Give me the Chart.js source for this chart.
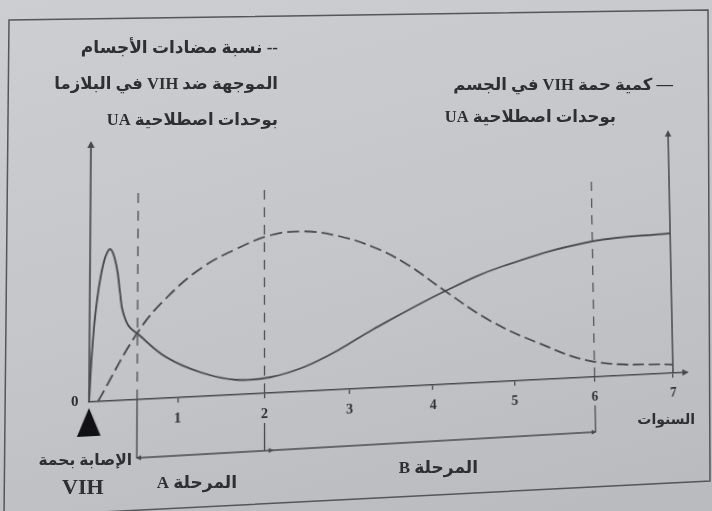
<!DOCTYPE html>
<html lang="ar">
<head>
<meta charset="UTF-8">
<title>VIH</title>
<script src="https://cdn.jsdelivr.net/npm/chart.js@4"></script>
<style>
html, body { margin: 0; padding: 0; }
body { width: 712px; height: 511px; overflow: hidden; position: relative; background: linear-gradient(165deg, #cdced2 0%, #c4c5c9 55%, #b9babe 100%); font-family: "Liberation Serif", "DejaVu Sans", serif; color: #2f2f33; }
#frame { position: absolute; left: 0; top: 0; }
#chart { position: absolute; left: 0; top: 0; transform-origin: 0 0; filter: blur(0.4px); }
.t { position: absolute; white-space: nowrap; font-weight: bold; line-height: 1; filter: blur(0.3px); }
.rtl { direction: rtl; }
</style>
</head>
<body>
<svg id="frame" width="712" height="511"><polygon points="9,20 708,10 710,481 4,517" fill="none" stroke="#55565a" stroke-width="1.5"/></svg>
<canvas id="chart" width="712" height="511"></canvas>

<div class="t rtl" style="right:434px; top:39px; font-size:17px">-- نسبة مضادات الأجسام</div>
<div class="t rtl" style="right:434px; top:76px; font-size:16.5px">الموجهة ضد VIH في البلازما</div>
<div class="t rtl" style="right:434px; top:112px; font-size:16.5px">بوحدات اصطلاحية UA</div>
<div class="t rtl" style="right:39px; top:77px; font-size:16.5px">— كمية حمة VIH في الجسم</div>
<div class="t rtl" style="right:96px; top:109px; font-size:16.5px">بوحدات اصطلاحية UA</div>
<div class="t" style="left:71px; top:394px; font-size:15px">0</div>
<div class="t rtl" style="right:17px; top:413px; font-size:14px">السنوات</div>
<div class="t rtl" style="right:580px; top:452px; font-size:15.5px">الإصابة بحمة</div>
<div class="t" style="left:62px; top:476px; font-size:22px">VIH</div>
<div class="t rtl" style="right:475px; top:474px; font-size:17px">المرحلة A</div>
<div class="t rtl" style="right:234px; top:459px; font-size:17px">المرحلة B</div>

<script>
// values (years / conventional units UA)
const virusYears    = [0, 0.03, 0.08, 0.16, 0.23, 0.30, 0.34, 0.37, 0.44, 0.54, 0.87, 1.27, 1.67, 2.07, 2.47, 2.88, 3.28, 4.16, 4.88, 6.0, 7.0];
const virusLoad     = [0, 50, 100, 141, 152, 134, 108, 90, 74, 66, 41, 24, 15, 16, 25, 41, 60, 97, 121, 144, 150];
const antibodyYears = [0.1, 0.54, 0.87, 1.27, 1.67, 2.07, 2.47, 2.88, 3.28, 3.67, 4.16, 4.69, 5.29, 6.0, 7.0];
const antibodyLevel = [0, 67, 101, 130, 148, 161, 164, 158, 146, 128, 97, 65, 39, 16, 9];
const yearTicks     = [1, 2, 3, 4, 5, 6, 7];
const guideYears    = [0.54, 2, 6];
const guideTop      = 210;
const phaseBounds   = [0.54, 2, 6];
const phaseLine     = -58;
const axisTop       = 260;
const xAxisEnd      = 7.18;

// where the chart corners sit in the (tilted) photo
const photoCorners = [[89, 402], [673, 373], [91, 143], [668, 132]];

const INK  = '#49494d';
const TEXT = '#2f2f33';

const toPoints = (xs, ys) => xs.map((v, i) => ({x: v, y: ys[i]}));

const arrowHead = (ctx, px, py, dir, size = 7) => {
    const w = size * 0.5;
    ctx.beginPath();
    if (dir === 'up')
    {
        ctx.moveTo(px, py);
        ctx.lineTo(px - w, py + size);
        ctx.lineTo(px + w, py + size);
    }
    else if (dir === 'right')
    {
        ctx.moveTo(px, py);
        ctx.lineTo(px - size, py - w);
        ctx.lineTo(px - size, py + w);
    }
    else
    {
        ctx.moveTo(px, py);
        ctx.lineTo(px + size, py - w);
        ctx.lineTo(px + size, py + w);
    }
    ctx.closePath();
    ctx.fill();
};

const segment = (ctx, x1, y1, x2, y2) => {
    ctx.beginPath();
    ctx.moveTo(x1, y1);
    ctx.lineTo(x2, y2);
    ctx.stroke();
};

const annotate = {
    id: 'annotate',
    afterDraw(chart) {
        const {ctx, scales: {x, y}} = chart;
        const x0 = x.getPixelForValue(0);
        const x7 = x.getPixelForValue(7);
        const yb = y.getPixelForValue(0);
        const yt = y.getPixelForValue(axisTop);

        ctx.save();
        ctx.strokeStyle = INK;
        ctx.fillStyle   = INK;
        ctx.lineWidth   = 1.6;

        // both vertical axes and the time arrow
        segment(ctx, x0, yb, x0, yt);
        arrowHead(ctx, x0, yt - 2, 'up');
        segment(ctx, x7, yb, x7, yt);
        arrowHead(ctx, x7, yt - 2, 'up');
        arrowHead(ctx, x.right + 2, yb, 'right');

        // phase A / phase B brackets
        const yl = y.getPixelForValue(phaseLine);
        const yc = y.getPixelForValue(-30);
        ctx.lineWidth = 1.3;
        segment(ctx, x.getPixelForValue(phaseBounds[0]), yb, x.getPixelForValue(phaseBounds[0]), yl);
        segment(ctx, x.getPixelForValue(phaseBounds[1]), yc, x.getPixelForValue(phaseBounds[1]), yl);
        segment(ctx, x.getPixelForValue(phaseBounds[2]), yc, x.getPixelForValue(phaseBounds[2]), yl);
        segment(ctx, x.getPixelForValue(phaseBounds[0]), yl, x.getPixelForValue(phaseBounds[2]), yl);
        arrowHead(ctx, x.getPixelForValue(phaseBounds[0]) - 1, yl, 'left', 5);
        arrowHead(ctx, x.getPixelForValue(phaseBounds[1]) + 9, yl, 'right', 5);
        arrowHead(ctx, x.getPixelForValue(phaseBounds[2]) + 1, yl, 'right', 5);

        // infection marker
        ctx.fillStyle = '#111113';
        ctx.beginPath();
        ctx.moveTo(x0, y.getPixelForValue(-6));
        ctx.lineTo(x0 - 11, y.getPixelForValue(-34));
        ctx.lineTo(x0 + 11, y.getPixelForValue(-34));
        ctx.closePath();
        ctx.fill();
        ctx.restore();
    }
};

const guideSets = guideYears.map((t) => ({
    data: [{x: t, y: 0}, {x: t, y: guideTop}],
    borderColor: INK,
    borderWidth: 1.2,
    borderDash: [10, 8],
    pointRadius: 0,
    tension: 0,
}));

const chart = new Chart(document.getElementById('chart'), {
    type: 'line',
    data: {
        datasets: [
            {
                label: 'كمية حمة VIH في الجسم',
                data: toPoints(virusYears, virusLoad),
                borderColor: INK,
                borderWidth: 1.8,
                pointRadius: 0,
                tension: 0.4,
            },
            {
                label: 'نسبة مضادات الأجسام الموجهة ضد VIH في البلازما',
                data: toPoints(antibodyYears, antibodyLevel),
                borderColor: INK,
                borderWidth: 1.8,
                borderDash: [12, 5],
                pointRadius: 0,
                tension: 0.4,
            },
            ...guideSets,
        ]
    },
    options: {
        responsive: false,
        animation: false,
        devicePixelRatio: 1,
        layout: {padding: {left: 90, right: 24, top: 140, bottom: 81}},
        plugins: {legend: {display: false}, tooltip: {enabled: false}},
        scales: {
            x: {
                type: 'linear',
                min: 0,
                max: xAxisEnd,
                afterBuildTicks: (scale) => { scale.ticks = yearTicks.map((v) => ({value: v})); },
                afterFit: (scale) => { scale.height = 30; },
                ticks: {color: TEXT, font: {family: 'Liberation Serif', size: 14, weight: 'bold'}, padding: 8, maxRotation: 0, autoSkip: false},
                grid: {drawOnChartArea: false, drawTicks: true, tickLength: 5, color: INK, lineWidth: 1.3},
                border: {display: true, color: INK, width: 1.6},
            },
            y: {
                display: false,
                min: 0,
                max: axisTop,
            }
        }
    },
    plugins: [annotate]
});

// tilt the flat chart onto the photographed page (projective map of the 4 corners)
const solve = (A, b) => {
    const n = b.length;
    const M = A.map((row, i) => [...row, b[i]]);
    for (let c = 0; c < n; c++)
    {
        let p = c;
        for (let r = c + 1; r < n; r++) if (Math.abs(M[r][c]) > Math.abs(M[p][c])) p = r;
        [M[c], M[p]] = [M[p], M[c]];
        for (let r = 0; r < n; r++)
        {
            if (r === c) continue;
            const f = M[r][c] / M[c][c];
            for (let k = c; k <= n; k++) M[r][k] -= f * M[c][k];
        }
    }
    return M.map((row, i) => row[n] / row[i]);
};

const {x: sx, y: sy} = chart.scales;
const src = [
    [sx.getPixelForValue(0), sy.getPixelForValue(0)],
    [sx.getPixelForValue(7), sy.getPixelForValue(0)],
    [sx.getPixelForValue(0), sy.getPixelForValue(axisTop)],
    [sx.getPixelForValue(7), sy.getPixelForValue(axisTop)],
];
const A = [];
const b = [];
src.forEach(([px, py], i) => {
    const [u, v] = photoCorners[i];
    A.push([px, py, 1, 0, 0, 0, -px * u, -py * u]);
    b.push(u);
    A.push([0, 0, 0, px, py, 1, -px * v, -py * v]);
    b.push(v);
});
const h = solve(A, b);
document.getElementById('chart').style.transform =
    `matrix3d(${h[0]},${h[3]},0,${h[6]},${h[1]},${h[4]},0,${h[7]},0,0,1,0,${h[2]},${h[5]},0,1)`;
</script>
</body>
</html>
